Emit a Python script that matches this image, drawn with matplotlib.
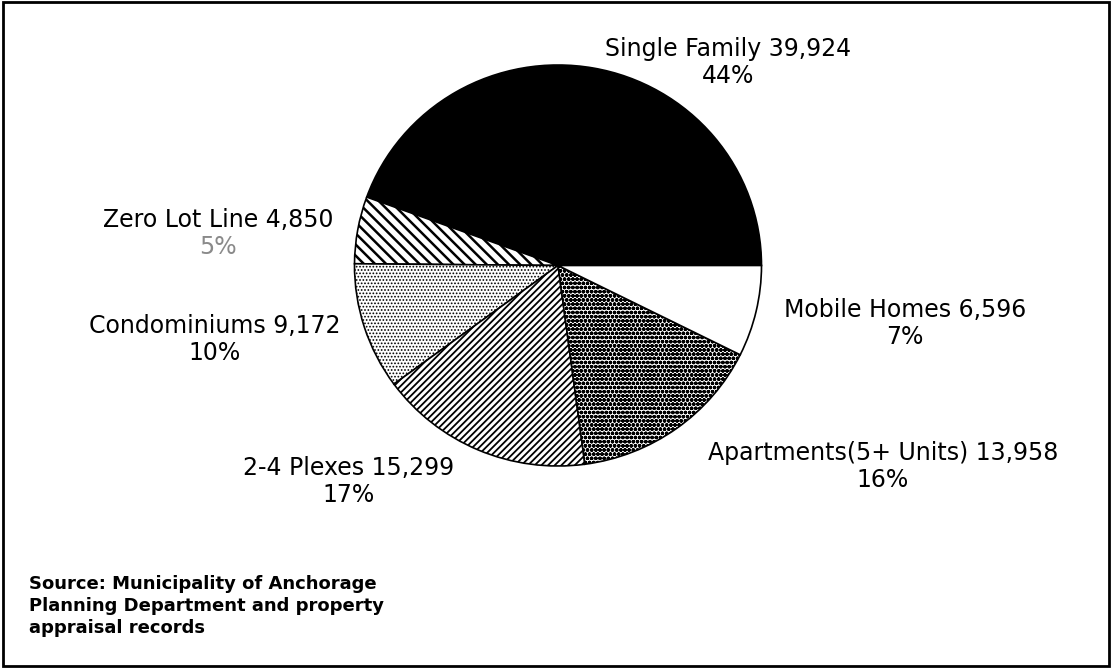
import matplotlib.pyplot as plt
from matplotlib.patches import Rectangle

# housing units by type
categories = ["Single Family", "Zero Lot Line", "Condominiums",
              "2-4 Plexes", "Apartments(5+ Units)", "Mobile Homes"]
units = [39924, 4850, 9172, 15299, 13958, 6596]

# fill style for each wedge
faces = ["black", "white", "white", "white", "white", "white"]
hatches = [None, "\\\\\\", ".....", "/////", "oooo", None]
hatch_lw = [1.0, 1.8, 0.8, 1.3, 1.3, 1.0]

# label anchor (centre x, baseline y of first line) in pixels
label_pos = [(728, 56), (218, 227), (215, 333),
             (349, 475), (883, 460), (905, 317)]
pct_color = ["black", "#8a8a8a", "black", "black", "black", "black"]

W, H = 1111, 669
fig = plt.figure(figsize=(W / 100, H / 100), dpi=100)


def fx(x):
    return x / W


def fy(y):
    return 1 - y / H


# pie box: centre (558, 265), about 407 x 401 px
cx, cy, rx, ry = 558, 265.5, 203.5, 200.5
ax = fig.add_axes([fx(cx - rx), fy(cy + ry), 2 * rx / W, 2 * ry / H])
wedges, _ = ax.pie(units, startangle=0, counterclock=True,
                   wedgeprops=dict(edgecolor="black", linewidth=1.2))
for w, fc, h, lw in zip(wedges, faces, hatches, hatch_lw):
    w.set_facecolor(fc)
    if h:
        w.set_hatch(h)
    if hasattr(w, "set_hatch_linewidth"):
        w.set_hatch_linewidth(lw)
ax.set_aspect("auto")
ax.set_xlim(-1, 1)
ax.set_ylim(-1, 1)
ax.axis("off")

total = sum(units)
for name, v, (x, y), pc in zip(categories, units, label_pos, pct_color):
    fig.text(fx(x), fy(y), f"{name} {v:,}", ha="center", va="baseline",
             fontsize=17, family="DejaVu Sans")
    fig.text(fx(x), fy(y + 27), f"{round(100 * v / total)}%", ha="center",
             va="baseline", fontsize=17, family="DejaVu Sans", color=pc)

source = ["Source: Municipality of Anchorage",
          "Planning Department and property",
          "appraisal records"]
for i, line in enumerate(source):
    fig.text(fx(29), fy(589 + 22 * i), line, ha="left", va="baseline",
             fontsize=13, fontweight="bold", family="DejaVu Sans")

# frame round the whole chart
fig.add_artist(Rectangle((fx(3), fy(666)), fx(1106), 1 - fy(664),
                         transform=fig.transFigure, fill=False,
                         edgecolor="black", linewidth=2))

fig.savefig("out.png", dpi=100)
